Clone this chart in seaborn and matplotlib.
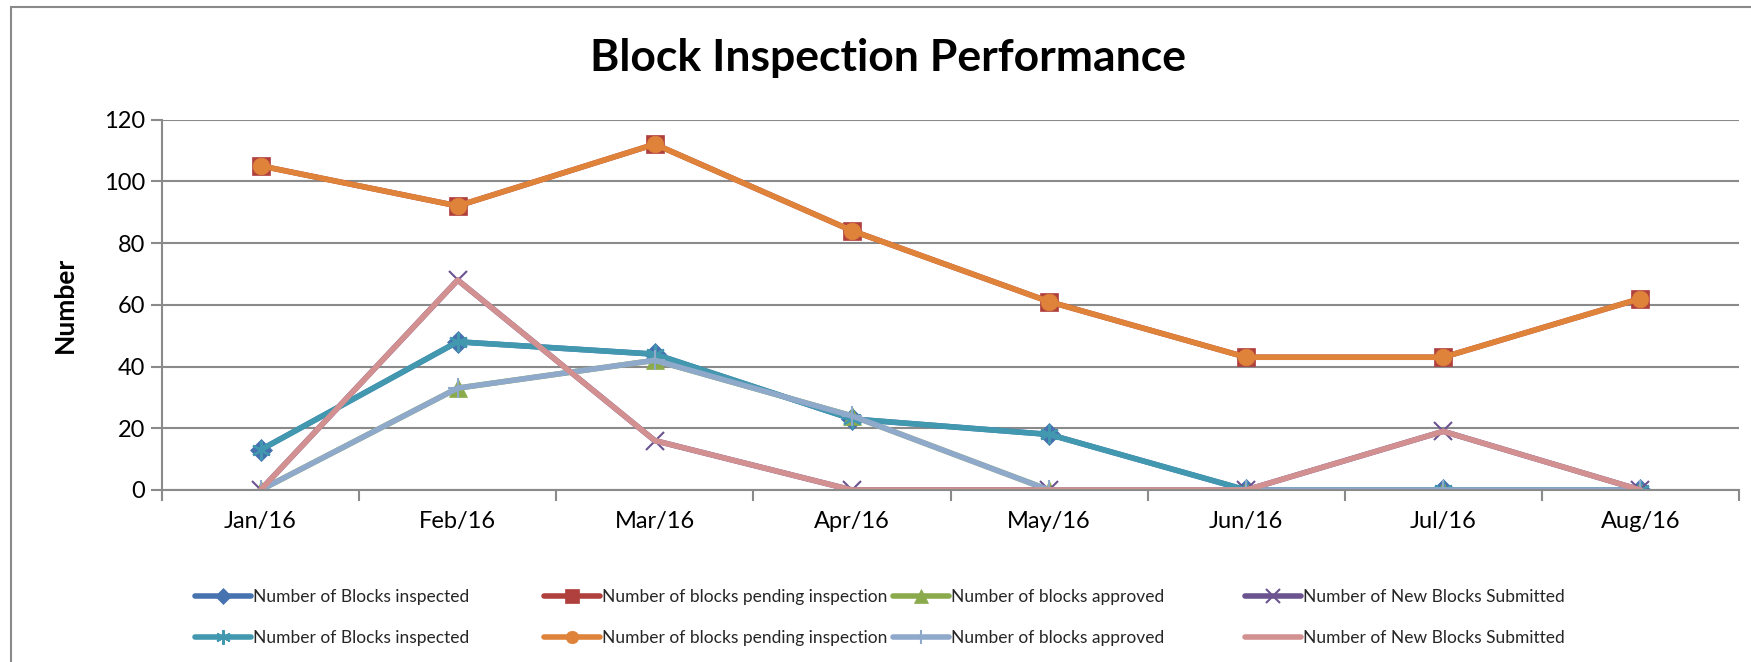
import numpy as np
import pandas as pd
import matplotlib.pyplot as plt
from matplotlib.patches import Rectangle
from matplotlib.ticker import FixedLocator, NullFormatter
import seaborn as sns

months = ["Jan/16", "Feb/16", "Mar/16", "Apr/16", "May/16", "Jun/16", "Jul/16", "Aug/16"]

blocks_inspected = [13, 48, 44, 23, 18, 0, 0, 0]
pending_inspection = [105, 92, 112, 84, 61, 43, 43, 62]
blocks_approved = [0, 33, 42, 24, 0, 0, 0, 0]
new_submitted = [0, 68, 16, 0, 0, 0, 19, 0]

series_names = ["Number of Blocks inspected", "Number of blocks pending inspection",
                "Number of blocks approved", "Number of New Blocks Submitted"]
series_values = [blocks_inspected, pending_inspection, blocks_approved, new_submitted]

# the sheet plots the same four series twice, second set drawn on top
colors_a = ["#4673B0", "#B0403D", "#8BAA4C", "#6B5390"]
colors_b = ["#4198AF", "#DE8339", "#8FA9CB", "#D29090"]
markers_a = ["D", "s", "^", "x"]
markers_b = [(6, 2, 0), "o", "+", None]
msize_a = [11, 13, 13, 13]
msize_b = [14, 12, 14, 0]

rows = []
for name, vals in zip(series_names, series_values):
    for m, v in zip(months, vals):
        rows.append({"Month": m, "Series": name, "Value": v})
df = pd.DataFrame(rows)

sns.set_theme(style="white")
plt.rcParams["font.family"] = ["Lato", "DejaVu Sans"]

fig = plt.figure(figsize=(17.51, 6.62), dpi=100)
ax = fig.add_axes([162 / 1751, 1 - 490 / 662, (1739 - 162) / 1751, (490 - 119.5) / 662])

grid_c = "#8A8A8A"
for set_colors, set_markers, set_sizes in [(colors_a, markers_a, msize_a), (colors_b, markers_b, msize_b)]:
    for i, name in enumerate(series_names):
        sub = df[df["Series"] == name]
        mk = set_markers[i]
        sns.lineplot(data=sub, x="Month", y="Value", ax=ax, color=set_colors[i],
                     lw=4.0, marker=mk if mk is not None else "",
                     markersize=set_sizes[i], markeredgecolor=set_colors[i],
                     markeredgewidth=1.5 if mk in ("x", "+") or isinstance(mk, tuple) else 0.5,
                     errorbar=None, label=name, sort=False)

ax.set_ylim(0, 120)
ax.set_xlim(-0.5, len(months) - 0.5)
ax.set_yticks(range(0, 121, 20))
ax.yaxis.grid(True, color=grid_c, lw=1.5)
ax.set_axisbelow(True)
for s in ["top", "right"]:
    ax.spines[s].set_visible(False)
for s in ["left", "bottom"]:
    ax.spines[s].set_color(grid_c)
    ax.spines[s].set_linewidth(1.5)
ax.xaxis.set_minor_locator(FixedLocator(np.arange(-0.5, len(months), 1.0)))
ax.xaxis.set_minor_formatter(NullFormatter())
ax.tick_params(axis="x", which="major", length=0, pad=15, labelsize=17, labelcolor="black")
ax.tick_params(axis="x", which="minor", length=8, width=1.5, color=grid_c, bottom=True)
ax.tick_params(axis="y", which="major", length=8, width=1.5, color=grid_c, left=True,
               pad=4, labelsize=17, labelcolor="black")
ax.set_xlabel("")
ax.set_ylabel("Number", fontsize=19, fontweight="bold", color="black")
ax.yaxis.set_label_coords(-0.054, 0.5)

fig.text(888 / 1751, 1 - 58 / 662, "Block Inspection Performance", ha="center", va="center",
         fontsize=32, fontweight="bold", color="black")

handles, labels = ax.get_legend_handles_labels()
if ax.get_legend():
    ax.get_legend().remove()
col_x = [195, 544, 893, 1245]
for i in range(4):
    fig.legend(handles=[handles[i], handles[i + 4]], labels=[labels[i], labels[i + 4]],
               loc="upper left", bbox_to_anchor=(col_x[i] / 1751, 1 - 589 / 662),
               frameon=False, fontsize=12.5, handlelength=3.2, handletextpad=0.15,
               borderpad=0, borderaxespad=0, labelspacing=1.45, numpoints=1,
               markerscale=0.75)

fig.patches.append(Rectangle((11 / 1751, -0.1), 1.2, 1.1 - 7 / 662, transform=fig.transFigure,
                             fill=False, edgecolor="#8A8A8A", lw=1.5))

fig.savefig("out.png", dpi=100)
